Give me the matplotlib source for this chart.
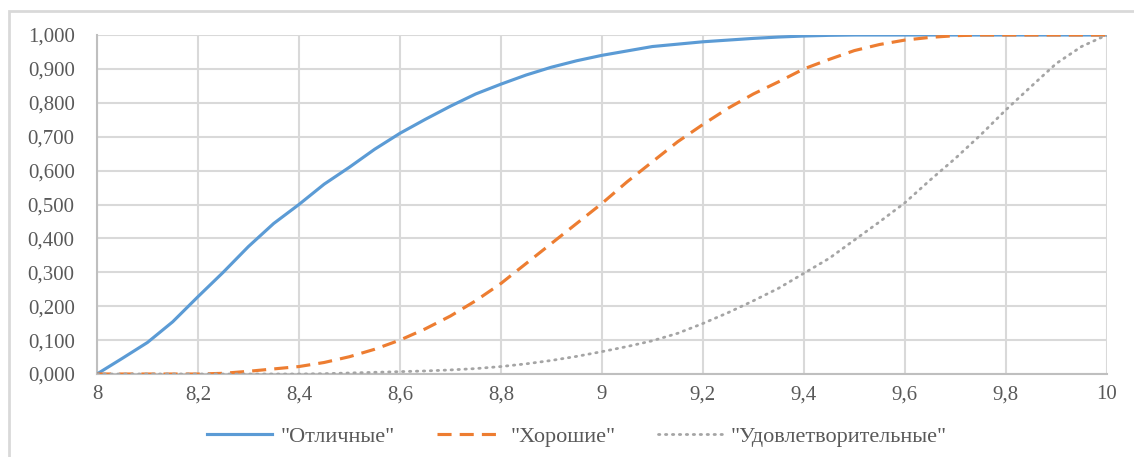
import matplotlib.pyplot as plt
from matplotlib.ticker import FuncFormatter
from matplotlib.patches import Rectangle

# данные (шаг 0,05)
x = [8.0, 8.05, 8.1, 8.15, 8.2, 8.25, 8.3, 8.35, 8.4, 8.45, 8.5,
     8.55, 8.6, 8.65, 8.7, 8.75, 8.8, 8.85, 8.9, 8.95, 9.0,
     9.05, 9.1, 9.15, 9.2, 9.25, 9.3, 9.35, 9.4, 9.45, 9.5,
     9.55, 9.6, 9.65, 9.7, 9.75, 9.8, 9.85, 9.9, 9.95, 10.0]
otlichnye = [0.0, 0.046, 0.093, 0.154, 0.228, 0.30, 0.376, 0.444, 0.50, 0.56, 0.61,
             0.663, 0.71, 0.751, 0.79, 0.826, 0.855, 0.882, 0.905, 0.924, 0.94,
             0.953, 0.966, 0.973, 0.98, 0.985, 0.99, 0.994, 0.997, 0.999, 1.0,
             1.0, 1.0, 1.0, 1.0, 1.0, 1.0, 1.0, 1.0, 1.0, 1.0]
khoroshie = [0.0, 0.0, 0.0, 0.0, 0.0, 0.002, 0.008, 0.015, 0.022, 0.034, 0.051,
             0.073, 0.10, 0.133, 0.171, 0.216, 0.267, 0.326, 0.385, 0.444, 0.503,
             0.567, 0.626, 0.685, 0.736, 0.784, 0.826, 0.862, 0.90, 0.928, 0.954,
             0.972, 0.985, 0.993, 0.998, 1.0, 1.0, 1.0, 1.0, 1.0, 1.0]
udovl = [0.0, 0.0, 0.0, 0.0, 0.0, 0.0, 0.0, 0.0, 0.0, 0.001, 0.003,
         0.005, 0.007, 0.009, 0.012, 0.016, 0.022, 0.03, 0.04, 0.052, 0.066,
         0.081, 0.098, 0.12, 0.149, 0.181, 0.216, 0.253, 0.297, 0.341, 0.395,
         0.449, 0.505, 0.572, 0.636, 0.705, 0.779, 0.848, 0.916, 0.966, 1.0]
names = ['"Отличные"', '"Хорошие"', '"Удовлетворительные"']

plt.rcParams['font.family'] = ['Liberation Serif', 'DejaVu Serif']

fig = plt.figure(figsize=(11.34, 4.57), dpi=100)
fig.patches.append(Rectangle((0.008, -0.05), 1.1, 1.026, transform=fig.transFigure,
                             fill=False, edgecolor='#d9d9d9', linewidth=2))
ax = fig.add_axes([0.0855, 0.1816, 0.8905, 0.7418])

ax.plot(x, otlichnye, color='#5B9BD5', linewidth=2.25, label=names[0], zorder=3)
ax.plot(x, khoroshie, color='#ED7D31', linewidth=2.25, dashes=(4.5, 2.6), label=names[1], zorder=3)
ax.plot(x, udovl, color='#A5A5A5', linewidth=2, dashes=(0.5, 2.0), dash_capstyle='round',
        label=names[2], zorder=3)

ax.set_xlim(8, 10)
ax.set_ylim(0, 1)
ax.set_xticks([8, 8.2, 8.4, 8.6, 8.8, 9, 9.2, 9.4, 9.6, 9.8, 10])
ax.set_yticks([i / 10 for i in range(11)])
ax.xaxis.set_major_formatter(FuncFormatter(lambda v, p: ('%g' % round(v, 2)).replace('.', ',')))
ax.yaxis.set_major_formatter(FuncFormatter(lambda v, p: ('%.3f' % v).replace('.', ',')))
ax.tick_params(length=0, labelsize=15, labelcolor='#595959')
ax.tick_params(axis='x', pad=8)
ax.tick_params(axis='y', pad=16)
ax.grid(True, color='#d9d9d9', linewidth=1.5)
ax.set_axisbelow(True)
for s in ['top', 'right']:
    ax.spines[s].set_visible(False)
for s in ['left', 'bottom']:
    ax.spines[s].set_color('#bfbfbf')
    ax.spines[s].set_linewidth(1.5)

fig.legend(loc='center', bbox_to_anchor=(0.509, 0.044), ncol=3, frameon=False,
           fontsize=16, labelcolor='#595959', handlelength=2.9, handletextpad=0.4,
           columnspacing=1.9)

fig.savefig('out.png', dpi=100)
